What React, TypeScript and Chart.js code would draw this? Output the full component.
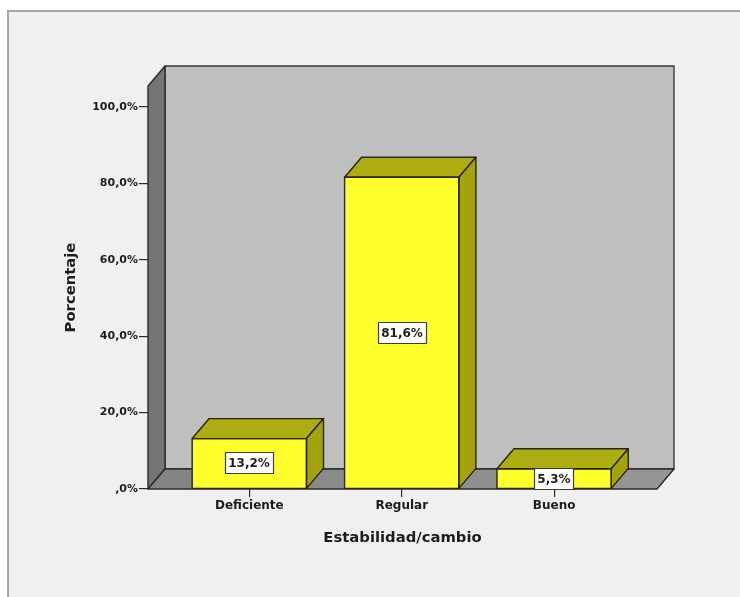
import { useEffect, useRef } from 'react';
import { Chart, registerables } from 'chart.js';

Chart.register(...registerables);

// Frequency table: Estabilidad/cambio (percent of cases)
const categories = ['Deficiente', 'Regular', 'Bueno'];
const percentages = [13.2, 81.6, 5.3];
const yTickValues = [0, 20, 40, 60, 80, 100];
const yAxisTitle = 'Porcentaje';
const xAxisTitle = 'Estabilidad/cambio';

const FONT = "'DejaVu Sans', Verdana, sans-serif";
const DEPTH_X = 17;
const DEPTH_Y = 20;

// SPSS-style percent label: 13,2% / ,0%
const formatPercent = (v: number) => {
  const s = v.toFixed(1).replace('.', ',');
  return (s.startsWith('0,') ? s.slice(1) : s) + '%';
};

type Pt = [number, number];

function polygon(
  ctx: CanvasRenderingContext2D,
  pts: Pt[],
  fill: any,
  stroke: string,
  lw = 1.4
) {
  ctx.beginPath();
  ctx.moveTo(pts[0][0], pts[0][1]);
  for (let i = 1; i < pts.length; i++) ctx.lineTo(pts[i][0], pts[i][1]);
  ctx.closePath();
  ctx.fillStyle = fill;
  ctx.fill();
  ctx.strokeStyle = stroke;
  ctx.lineWidth = lw;
  ctx.lineJoin = 'round';
  ctx.stroke();
}

// Draws the box (back wall, side wall, floor) and the 3D faces of the bars
const box3d = {
  id: 'box3d',
  beforeDraw(chart: any) {
    const { ctx, chartArea } = chart;
    const ys = chart.scales.y;
    const x0 = chartArea.left;
    const x1 = chartArea.right;
    const yBase = ys.getPixelForValue(0);
    const yTop = ys.getPixelForValue(ys.max);
    const dx = DEPTH_X;
    const dy = DEPTH_Y;
    ctx.save();
    // back wall
    polygon(
      ctx,
      [
        [x0 + dx, yTop - dy],
        [x1 + dx, yTop - dy],
        [x1 + dx, yBase - dy],
        [x0 + dx, yBase - dy],
      ],
      '#bfbfbf',
      '#383838'
    );
    // left side wall
    polygon(
      ctx,
      [
        [x0, yTop],
        [x0 + dx, yTop - dy],
        [x0 + dx, yBase - dy],
        [x0, yBase],
      ],
      '#757575',
      '#2a2a2a'
    );
    // floor
    const g = ctx.createLinearGradient(x0, 0, x1 + dx, 0);
    g.addColorStop(0, '#848484');
    g.addColorStop(1, '#969696');
    polygon(
      ctx,
      [
        [x0, yBase],
        [x0 + dx, yBase - dy],
        [x1 + dx, yBase - dy],
        [x1, yBase],
      ],
      g,
      '#2a2a2a'
    );
    ctx.restore();
  },
  afterDatasetsDraw(chart: any) {
    const { ctx } = chart;
    const meta = chart.getDatasetMeta(0);
    const dx = DEPTH_X;
    const dy = DEPTH_Y;
    ctx.save();
    meta.data.forEach((bar: any) => {
      const { x, y, base, width } = bar.getProps(['x', 'y', 'base', 'width'], true);
      const l = x - width / 2;
      const r = x + width / 2;
      // top face
      polygon(
        ctx,
        [
          [l, y],
          [l + dx, y - dy],
          [r + dx, y - dy],
          [r, y],
        ],
        '#adad12',
        '#262600'
      );
      // right side face
      polygon(
        ctx,
        [
          [r, y],
          [r + dx, y - dy],
          [r + dx, base - dy],
          [r, base],
        ],
        '#a3a30e',
        '#262600'
      );
      // front face outline, drawn again so it matches the other edges
      ctx.strokeStyle = '#262600';
      ctx.lineWidth = 1.4;
      ctx.strokeRect(l, y, r - l, base - y);
    });
    // value labels in white boxes
    ctx.font = `bold 12px ${FONT}`;
    ctx.textAlign = 'center';
    ctx.textBaseline = 'middle';
    meta.data.forEach((bar: any, i: number) => {
      const { x, y, base } = bar.getProps(['x', 'y', 'base'], true);
      const text = formatPercent(percentages[i]);
      const w = Math.round(ctx.measureText(text).width + 6);
      const h = 21;
      const cx = Math.round(x);
      const cy = Math.round((y + base) / 2);
      const bx = cx - Math.round(w / 2) + 0.5;
      const by = cy - Math.round(h / 2) + 0.5;
      ctx.fillStyle = '#ffffff';
      ctx.fillRect(bx, by, w, h);
      ctx.strokeStyle = '#3e3e30';
      ctx.lineWidth = 1.2;
      ctx.strokeRect(bx, by, w, h);
      ctx.fillStyle = '#1c1c1c';
      ctx.fillText(text, cx, cy + 1);
    });
    ctx.restore();
  },
};

export default function App() {
  const canvasRef = useRef<HTMLCanvasElement>(null);

  useEffect(() => {
    const canvas = canvasRef.current;
    if (!canvas) return;
    const chart = new Chart(canvas, {
      type: 'bar',
      data: {
        datasets: [
          {
            data: percentages.map((v, i) => ({ x: i, y: v })),
            backgroundColor: '#ffff2e',
            borderColor: '#262600',
            borderWidth: 0,
            borderSkipped: false,
            categoryPercentage: 1,
            barPercentage: 0.75,
          },
        ],
      },
      options: {
        responsive: false,
        animation: false,
        devicePixelRatio: 1,
        events: [],
        layout: { padding: { left: 60, right: 83, top: 86, bottom: 48 } },
        plugins: {
          legend: { display: false },
          tooltip: { enabled: false },
        },
        scales: {
          x: {
            type: 'linear',
            min: -0.665,
            max: 2.675,
            offset: false,
            grid: {
              offset: false,
              drawOnChartArea: false,
              drawTicks: true,
              tickLength: 8,
              lineWidth: 1.2,
              color: '#2a2a2a',
            },
            border: { display: false },
            afterBuildTicks: (s: any) => {
              s.ticks = categories.map((_, i) => ({ value: i }));
            },
            afterFit: (s: any) => {
              s.height = 60;
            },
            ticks: {
              autoSkip: false,
              maxRotation: 0,
              padding: 2,
              color: '#1c1c1c',
              font: { family: FONT, size: 12, weight: 'bold' },
              callback: (v: any) => categories[Number(v)] ?? '',
            },
            title: {
              display: true,
              text: xAxisTitle,
              color: '#1c1c1c',
              font: { family: FONT, size: 14.8, weight: 'bold' },
              padding: { top: 0, bottom: 2 },
            },
          },
          y: {
            type: 'linear',
            min: 0,
            max: 105.5,
            grid: {
              drawOnChartArea: false,
              drawTicks: true,
              tickLength: 9,
              lineWidth: 1.2,
              color: '#2a2a2a',
            },
            border: { display: false },
            afterBuildTicks: (s: any) => {
              s.ticks = yTickValues.map((v) => ({ value: v }));
            },
            afterFit: (s: any) => {
              s.width = 88;
            },
            ticks: {
              padding: 1,
              color: '#1c1c1c',
              font: { family: FONT, size: 11, weight: 'bold' },
              callback: (v: any) => formatPercent(Number(v)),
            },
            title: {
              display: true,
              text: yAxisTitle,
              color: '#1c1c1c',
              font: { family: FONT, size: 14.8, weight: 'bold' },
              padding: { top: 2, bottom: 0 },
            },
          },
        },
      } as any,
      plugins: [box3d],
    });
    return () => chart.destroy();
  }, []);

  return (
    <div
      style={{
        position: 'fixed',
        left: 0,
        top: 0,
        width: 740,
        height: 597,
        background: '#ffffff',
        overflow: 'hidden',
      }}
    >
      <div
        style={{
          position: 'absolute',
          left: 7,
          top: 10,
          width: 780,
          height: 640,
          background: '#f0f0f0',
          border: '2px solid #a6a6a6',
        }}
      />
      <canvas
        ref={canvasRef}
        width={740}
        height={597}
        style={{ position: 'absolute', left: 0, top: 0, width: 740, height: 597 }}
      />
    </div>
  );
}
